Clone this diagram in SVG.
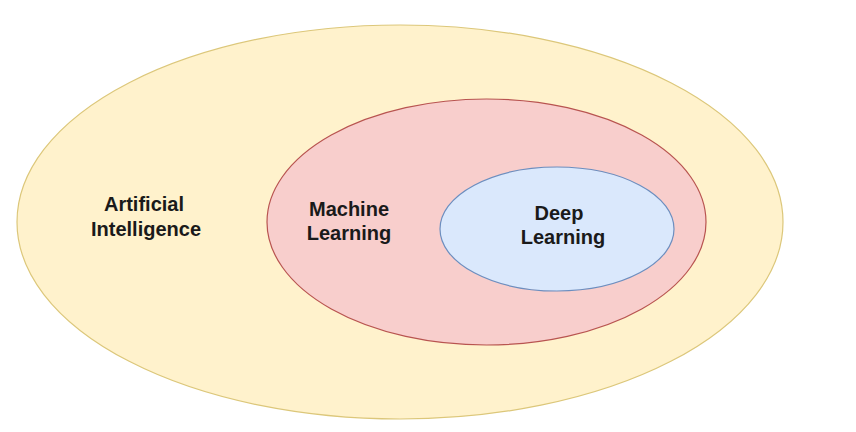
<svg xmlns="http://www.w3.org/2000/svg" width="856" height="432" viewBox="0 0 856 432">
<style>
.lbl{font-family:"Liberation Sans",Arial,Helvetica,sans-serif;font-size:20px;font-weight:bold;fill:#1a1a1a;text-anchor:middle}
.ai{fill:#fff2cc;stroke:#dcc77a;stroke-width:1.2}
.ml{fill:#f8cecc;stroke:#b85450;stroke-width:1.2}
.dl{fill:#dae8fc;stroke:#6c8ebf;stroke-width:1.2}
</style>
<rect width="856" height="432" fill="#ffffff"/>
<g id="ai">
<ellipse class="ai" cx="400" cy="222" rx="383" ry="197"/>
<text class="lbl" x="144" y="211">Artificial</text>
<text class="lbl" x="146" y="236">Intelligence</text>
</g>
<g id="ml">
<ellipse class="ml" cx="486.5" cy="222" rx="219.5" ry="123"/>
<text class="lbl" x="349" y="216">Machine</text>
<text class="lbl" x="349" y="240">Learning</text>
</g>
<g id="dl">
<ellipse class="dl" cx="557" cy="229" rx="117" ry="62"/>
<text class="lbl" x="559" y="220">Deep</text>
<text class="lbl" x="563" y="244">Learning</text>
</g>
<g id="connectors"/>
</svg>
